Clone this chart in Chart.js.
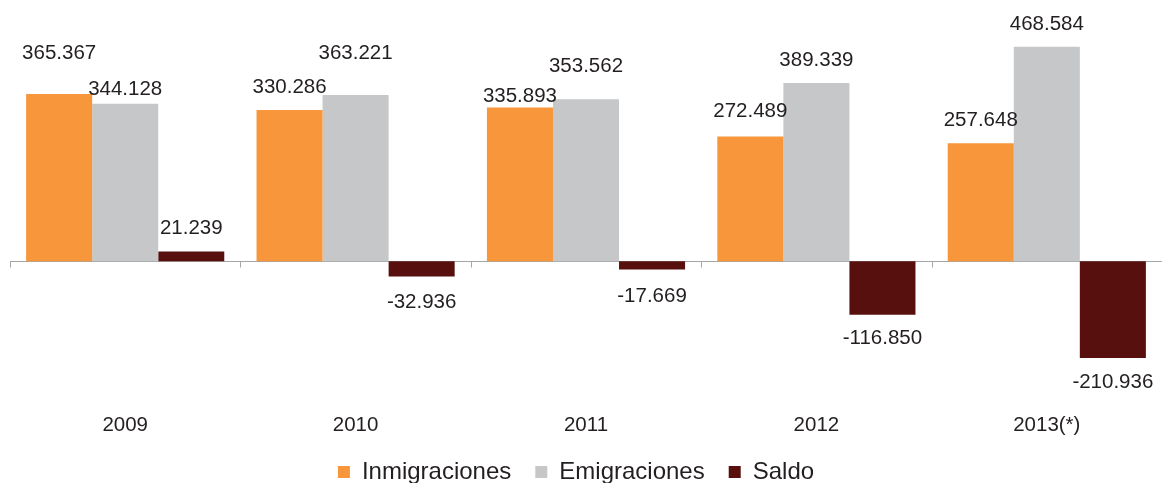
<!DOCTYPE html>
<html lang="es">
<head>
<meta charset="utf-8">
<title>Inmigraciones, emigraciones y saldo</title>
<script src="https://cdn.jsdelivr.net/npm/chart.js@4.4.1/dist/chart.umd.min.js"></script>
<style>
    html, body { margin: 0; padding: 0; background: #fff; overflow: hidden; }
    .chart-box { position: relative; width: 1162px; height: 494px; }
</style>
</head>
<body>
<div class="chart-box"><canvas id="flujosChart"></canvas></div>
<script>
// Datos del gráfico
const years = ['2009', '2010', '2011', '2012', '2013(*)'];
const inmigraciones = [365367, 330286, 335893, 272489, 257648];
const emigraciones = [344128, 363221, 353562, 389339, 468584];
const saldo = [21239, -32936, -17669, -116850, -210936];

document.addEventListener('DOMContentLoaded', function() {
    const textColor = '#231f20';
    const fontFamily = '"Liberation Sans", Arial, sans-serif';

    // Formato con punto como separador de miles
    const formatValue = (v) => {
        const s = Math.abs(v).toString().replace(/\B(?=(\d{3})+(?!\d))/g, '.');
        return v < 0 ? '-' + s : s;
    };

    /**
     * Línea de cero con marcas entre categorías
     * ======================================================================== */
    const zeroLine = {
        id: 'zeroLine',
        beforeDatasetsDraw(chart) {
            const { ctx, chartArea, scales: { x, y } } = chart;
            const y0 = Math.round(y.getPixelForValue(0)) + 0.5;
            const step = x.getPixelForValue(1) - x.getPixelForValue(0);
            ctx.save();
            ctx.strokeStyle = '#a6a6a6';
            ctx.lineWidth = 1;
            ctx.beginPath();
            ctx.moveTo(chartArea.left, y0);
            ctx.lineTo(chartArea.right, y0);
            for (let i = 0; i <= years.length; i++) {
                const xt = Math.round(x.getPixelForValue(0) - step / 2 + i * step) + 0.5;
                ctx.moveTo(xt, y0);
                ctx.lineTo(xt, y0 + 6);
            }
            ctx.stroke();
            ctx.restore();
        }
    };

    // Desplaza la leyenda un poco a la izquierda (centrada como en el original)
    const legendShift = {
        id: 'legendShift',
        afterLayout(chart) {
            if (chart.legend) chart.legend.left = -10;
        }
    };

    /**
     * Etiquetas de valores sobre/bajo cada barra
     * ======================================================================== */
    const valueLabels = {
        id: 'valueLabels',
        afterDatasetsDraw(chart, args, opts) {
            const { ctx } = chart;
            ctx.save();
            ctx.font = opts.font;
            ctx.fillStyle = opts.color;
            ctx.textAlign = 'center';
            ctx.textBaseline = 'middle';
            chart.data.datasets.forEach((ds, di) => {
                const meta = chart.getDatasetMeta(di);
                meta.data.forEach((bar, i) => {
                    const v = ds.data[i];
                    const off = opts.offsets[di][i];
                    const yText = v >= 0 ? bar.y - off : bar.y + off;
                    ctx.fillText(formatValue(v), bar.x, yText);
                });
            });
            ctx.restore();
        }
    };

    const ctx = document.getElementById('flujosChart');
    new Chart(ctx, {
        type: 'bar',
        data: {
            labels: years,
            datasets: [
                { label: 'Inmigraciones', data: inmigraciones, backgroundColor: '#f7963b' },
                { label: 'Emigraciones', data: emigraciones, backgroundColor: '#c6c7c9' },
                { label: 'Saldo', data: saldo, backgroundColor: '#58100f' }
            ]
        },
        options: {
            responsive: true,
            maintainAspectRatio: false,
            animation: false,
            layout: { padding: { left: 10, right: 0, top: 0, bottom: 0 } },
            datasets: {
                bar: { categoryPercentage: 0.86, barPercentage: 1.0 }
            },
            plugins: {
                tooltip: { enabled: false },
                legend: {
                    position: 'bottom',
                    labels: {
                        color: textColor,
                        boxWidth: 12,
                        boxHeight: 12,
                        padding: 24,
                        font: { family: fontFamily, size: 24 }
                    }
                },
                valueLabels: {
                    font: '20.5px ' + fontFamily,
                    color: textColor,
                    offsets: [
                        [41, 23, 11, 25, 22.5],
                        [14, 42, 33, 23, 22],
                        [23, 25.6, 26.6, 24, 24.6]
                    ]
                }
            },
            scales: {
                x: {
                    grid: { display: false, drawTicks: false },
                    border: { display: false },
                    ticks: {
                        color: textColor,
                        padding: 2,
                        font: { family: fontFamily, size: 20.5, lineHeight: '17px' }
                    }
                },
                y: {
                    display: false,
                    min: -335590,
                    max: 570524
                }
            }
        },
        plugins: [zeroLine, legendShift, valueLabels]
    });
});
</script>
</body>
</html>
